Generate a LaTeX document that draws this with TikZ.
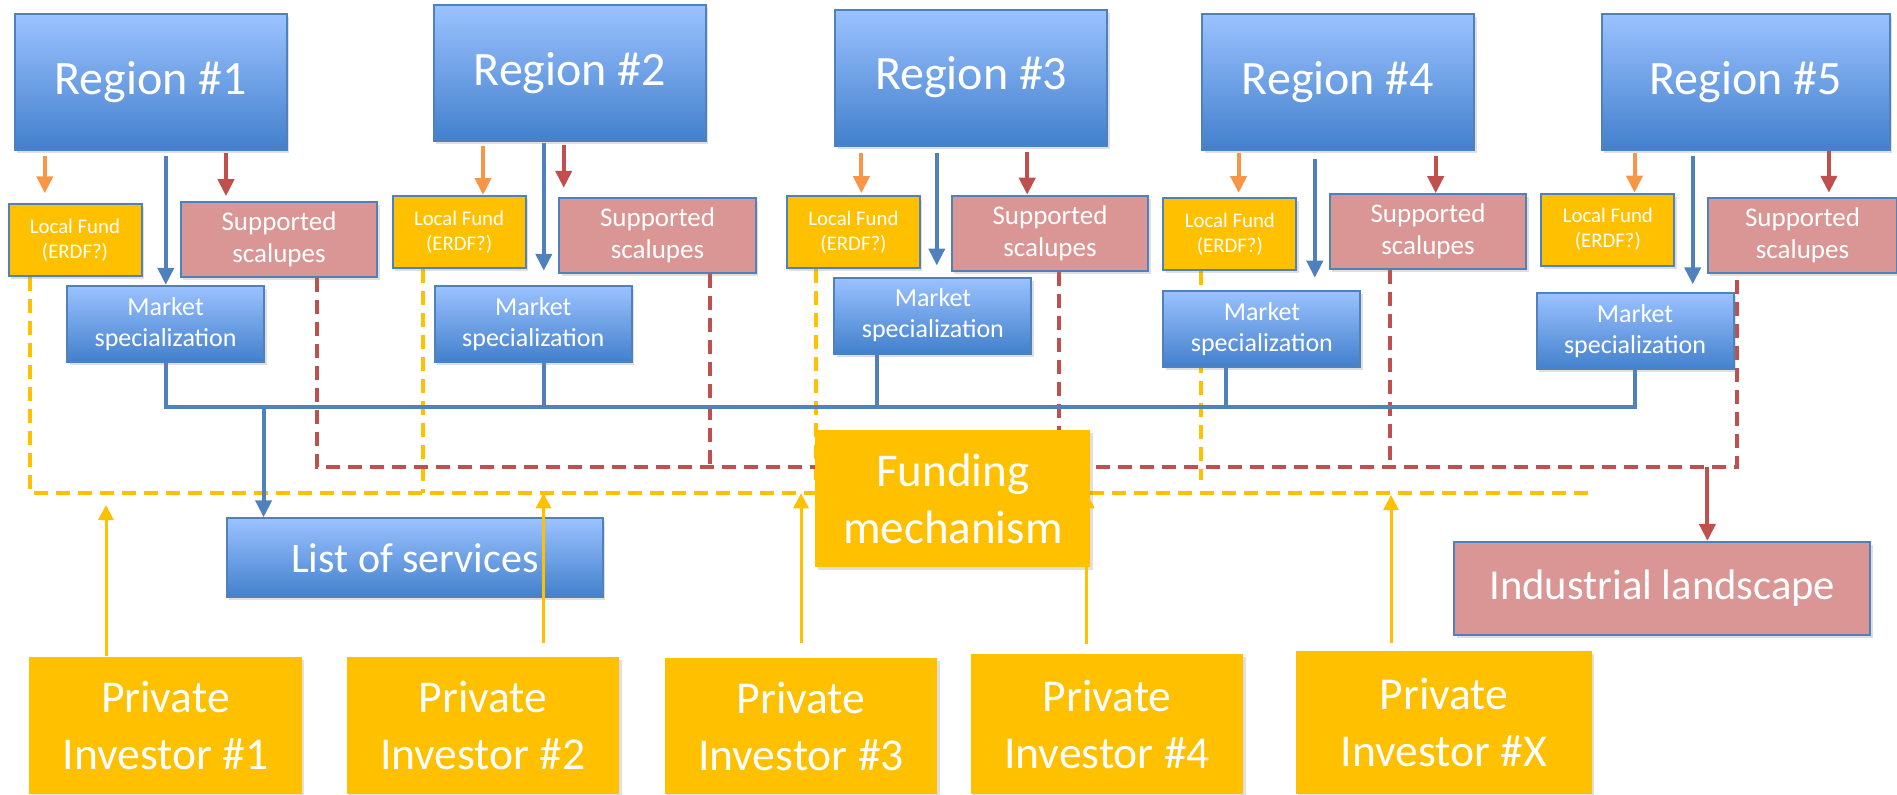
\documentclass[tikz,border=0pt]{standalone}
\usepackage{fontspec}
\setmainfont{Carlito}
\usepackage{tikz}
\usetikzlibrary{arrows.meta, positioning, calc, shadows}
\definecolor{regblue}{RGB}{79, 129, 189}
\definecolor{regtop}{RGB}{155, 194, 255}
\definecolor{regbot}{RGB}{66, 128, 204}
\definecolor{fundgold}{RGB}{255, 192, 0}
\definecolor{scalered}{RGB}{217, 150, 148}
\definecolor{fundorange}{RGB}{247, 150, 70}
\definecolor{scalearrow}{RGB}{192, 80, 77}
\pgfdeclarelayer{back}
\pgfsetlayers{back,main}

\tikzset{
  cardbox/.style={rectangle, inner sep=0pt, align=center, text=white,
    drop shadow={shadow xshift=1.2pt, shadow yshift=-1.5pt, opacity=0.25}},
  regionbox/.style={cardbox, draw=regblue, line width=1pt, top color=regtop, bottom color=regbot,
    minimum width=136pt, minimum height=68pt, font=\fontsize{24}{29}\selectfont},
  marketbox/.style={cardbox, draw=regblue, line width=1pt, top color=regtop, bottom color=regbot,
    minimum width=98.5pt, minimum height=38pt, font=\fontsize{13}{15.5}\selectfont},
  fundbox/.style={cardbox, draw=regblue, line width=1pt, fill=fundgold,
    minimum width=66.5pt, minimum height=36pt, font=\fontsize{10.4}{12.5}\selectfont},
  scalebox/.style={cardbox, draw=regblue, line width=1pt, fill=scalered,
    minimum width=98.25pt, minimum height=37.5pt, font=\fontsize{13.5}{16}\selectfont},
  investorbox/.style={cardbox, fill=fundgold, minimum width=136.3pt,
    font=\fontsize{22.8}{28.5}\selectfont},
  tiparrow/.style={line width=2pt, -{Triangle[length=8.5pt, width=8pt]}},
  fundarr/.style={tiparrow, draw=fundorange},
  scalearr/.style={tiparrow, draw=scalearrow},
  marketarr/.style={tiparrow, draw=regblue},
  investarr/.style={line width=1.5pt, draw=fundgold, -{Triangle[length=7.5pt, width=7.5pt]}},
  bluebus/.style={line width=2pt, draw=regblue},
  golddash/.style={line width=2pt, draw=fundgold, dash pattern=on 7pt off 4pt},
  reddash/.style={line width=2pt, draw=scalearrow, dash pattern=on 7pt off 4pt},
}

\begin{document}
\begin{tikzpicture}[x=0.5pt, y=-0.5pt]
  \useasboundingbox (0,0) rectangle (1897,794);

  \node[regionbox] (R1) at (150.7,82) {Region \#1};
  \node[regionbox] (R2) at (570,73.3) {Region \#2};
  \node[regionbox] (R3) at (971.2,77.5) {Region \#3};
  \node[regionbox] (R4) at (1338.1,81.7) {Region \#4};
  \node[regionbox, minimum width=144pt] (R5) at (1745.5,81.7) {Region \#5};

  \node[fundbox] (F1) at (75,240.3) {Local Fund\\(ERDF?)};
  \node[fundbox] (F2) at (459.1,232) {Local Fund\\(ERDF?)};
  \node[fundbox] (F3) at (853.5,232.2) {Local Fund\\(ERDF?)};
  \node[fundbox] (F4) at (1229.9,234) {Local Fund\\(ERDF?)};
  \node[fundbox] (F5) at (1607.9,229.7) {Local Fund\\(ERDF?)};

  \node[scalebox] (S1) at (279,239.7) {Supported\\scalupes};
  \node[scalebox] (S2) at (657.5,235.3) {Supported\\scalupes};
  \node[scalebox] (S3) at (1050,233.2) {Supported\\scalupes};
  \node[scalebox] (S4) at (1428,231.7) {Supported\\scalupes};
  \node[scalebox, minimum width=94.5pt] (S5) at (1802.5,235.3) {Supported\\scalupes};

  \node[marketbox] (M1) at (165.6,323.8) {Market\\specialization};
  \node[marketbox] (M2) at (533.2,323.8) {Market\\specialization};
  \node[marketbox] (M3) at (932.9,315.5) {Market\\specialization};
  \node[marketbox] (M4) at (1261.9,328.7) {Market\\specialization};
  \node[marketbox] (M5) at (1635,331.3) {Market\\specialization};

  \node[marketbox, minimum width=188pt, minimum height=39.5pt, font=\fontsize{21}{25}\selectfont] (L) at (415,557.8) {List of services};
  \node[investorbox, minimum width=137.5pt, minimum height=68.5pt, font=\fontsize{23.5}{28.5}\selectfont] (FM) at (952.9,498.7) {Funding\\mechanism};
  \node[scalebox, minimum width=208pt, minimum height=46.5pt, font=\fontsize{21.3}{25}\selectfont] (IL) at (1662.3,588.4) {Industrial landscape};

  \node[investorbox, minimum height=68.65pt] (P1) at (165.4,725.35) {Private\\Investor \#1};
  \node[investorbox, minimum height=68.65pt] (P2) at (482.9,725.35) {Private\\Investor \#2};
  \node[investorbox, minimum height=67.85pt] (P3) at (801,726.15) {Private\\Investor \#3};
  \node[investorbox, minimum height=70pt] (P4) at (1107.1,724) {Private\\Investor \#4};
  \node[investorbox, minimum width=148pt, minimum height=71.65pt] (PX) at (1444,722.35) {Private\\Investor \#X};

  \begin{pgfonlayer}{back}
    \coordinate (y1) at (29.8,492.7);
    \coordinate (y2) at (422.6,492.7);
    \coordinate (y3) at (815.8,480);
    \coordinate (y4) at (1200.5,480);
    \coordinate (yend) at (1589,492.7);
    \draw[golddash] (F1.south -| y1) -- (y1) -- (yend);
    \foreach \n in {2,3,4} \draw[golddash] (F\n.south -| y\n) -- (y\n);

    \coordinate (t1) at (317,467.3);
    \coordinate (t2) at (710,467.3);
    \coordinate (t3) at (1058.5,467.3);
    \coordinate (t4) at (1390,467.3);
    \coordinate (t5) at (1736.5,467.3);
    \draw[reddash] (S1.south -| t1) -- (t1) -- (t5) -- (S5.south -| t5);
    \foreach \n in {2,3,4} \draw[reddash] (S\n.south -| t\n) -- (t\n);

    \coordinate (k1) at (165.6,406.7);
    \coordinate (k2) at (543.5,406.7);
    \coordinate (k3) at (876.5,406.7);
    \coordinate (k4) at (1226,406.7);
    \coordinate (k5) at (1634.5,406.7);
    \draw[bluebus] (M1.south -| k1) -- (k1) -- (k5) -- (M5.south -| k5);
    \foreach \n in {2,3,4} \draw[bluebus] (M\n.south -| k\n) -- (k\n);
  \end{pgfonlayer}

  \foreach \n/\x/\y/\s in {1/44.8/156/5pt, 2/483/146/0pt, 3/861.4/153/1pt, 4/1238.6/153/2pt, 5/1634.5/153/0pt}{
    \coordinate (o\n) at (\x,\y);
    \draw[fundarr, shorten >=\s] (o\n) -- (o\n |- F\n.north);
  }
  \foreach \n/\x/\y/\s in {1/165.8/156/0pt, 2/543.8/143/7pt, 3/936.8/153/5.5pt, 4/1314.8/159/6pt, 5/1692.7/155.7/4pt}{
    \coordinate (b\n) at (\x,\y);
    \draw[marketarr, shorten >=\s] (b\n) -- (b\n |- M\n.north);
  }
  \foreach \n/\x/\y/\s in {1/226/153/2.5pt, 2/563.7/145/4.5pt, 3/1027.2/151.7/0pt, 4/1435.7/155.7/0pt, 5/1828.9/150.7/2pt}{
    \coordinate (r\n) at (\x,\y);
    \draw[scalearr, shorten >=\s] (r\n) -- (r\n |- S\n.north);
  }

  \coordinate (ltap) at (263.6,406.7);
  \draw[marketarr] (ltap) -- (ltap |- L.north);
  \coordinate (rdrop) at (1707.4,467.3);
  \draw[scalearr] (rdrop) -- (rdrop |- IL.north);

  \foreach \n/\x/\y/\s in {1/106/505/0pt, 2/543.5/493.3/6.5pt, 3/801/493.3/7.5pt, 4/1086.8/493.3/5pt, X/1391/495/3.5pt}{
    \coordinate (pa\n) at (\x,\y);
    \draw[investarr, shorten <=\s] (P\n.north -| pa\n) -- (pa\n);
  }
\end{tikzpicture}
\end{document}
